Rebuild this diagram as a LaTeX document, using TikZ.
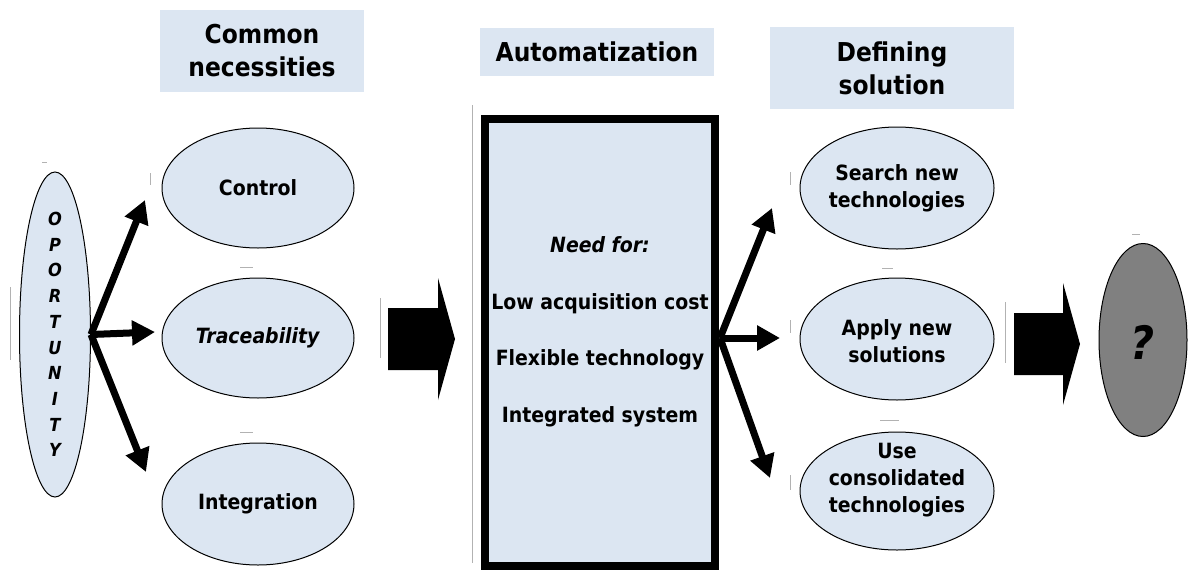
\documentclass[tikz,border=0pt]{standalone}
\usepackage{fontspec}
\setmainfont{DejaVu Sans Condensed}
\usetikzlibrary{shapes.geometric,arrows.meta}
\definecolor{lb}{HTML}{DCE6F2}
\definecolor{qgray}{HTML}{808080}
\begin{document}
\begin{tikzpicture}[x=1pt,y=-1pt,
  oval/.style={ellipse,draw=black,line width=1pt,fill=lb,inner sep=0pt},
  headbox/.style={fill=lb,inner sep=0pt,align=center,font=\fontsize{26}{33}\selectfont\bfseries},
  etext/.style={align=center,font=\fontsize{21}{27}\selectfont\bfseries},
  fat/.style={line width=7pt,-{Triangle[length=23pt,width=24pt]}},
  ghost/.style={draw=black!30,line width=1pt}]
\useasboundingbox (0,0) rectangle (1188,573);
\fill[white] (0,0) rectangle (1188,573);
% faint artefact lines
\draw[ghost] (10,287) -- (10,360);
\draw[ghost] (472,105) -- (472,563);
\draw[ghost] (380,298) -- (380,358);
\draw[ghost] (1005,302) -- (1005,363);
\draw[ghost] (790,172) -- (790,185);
\draw[ghost] (790,320) -- (790,333);
\draw[ghost] (790,475) -- (790,490);
\draw[ghost] (150,173) -- (150,185);
\draw[ghost] (42,162) -- (47,162);
\draw[ghost] (240,267) -- (253,267);
\draw[ghost] (240,432) -- (253,432);
\draw[ghost] (1132,234) -- (1140,234);
\draw[ghost] (882,268) -- (893,268);
\draw[ghost] (880,420) -- (899,420);
% headers
\node[headbox,minimum width=204pt,minimum height=82pt] (h1) at (262,51) {Common\\necessities};
\node[headbox,minimum width=234pt,minimum height=48pt] (h2) at (597,52) {Automatization};
\node[headbox,minimum width=244pt,minimum height=82pt] (h3) at (892,68) {Defining\\solution};
% opportunity
\node[oval,minimum width=71pt,minimum height=325pt] (opp) at (55,334.5) {};
\node[align=center,font=\fontsize{18}{25.7}\selectfont\bfseries\itshape] (oppt) at (opp.center) {O\\P\\O\\R\\T\\U\\N\\I\\T\\Y};
% necessities
\node[oval,minimum width=192pt,minimum height=120pt] (ctrl) at (258,188) {};
\node[etext] (ctrlt) at (ctrl.center) {Control};
\node[oval,minimum width=192pt,minimum height=120pt] (trace) at (258,338) {};
\node[etext] (tracet) at (trace.center) {\textit{Traceability}};
\node[oval,minimum width=192pt,minimum height=122pt] (integ) at (258,504) {};
\node[etext] (integt) at (integ.center) {Integration};
\coordinate (a1) at (145,200);
\coordinate (a2) at (155,332);
\coordinate (a3) at (146,472);
\draw[fat] (opp.east) -- (a1);
\draw[fat] (opp.east) -- (a2);
\draw[fat] (opp.east) -- (a3);
% big arrow 1
\fill[black] (388,308) -- (438,308) -- (438,278) -- (455,339) -- (438,400) -- (438,370) -- (388,370) -- cycle;
% automatization box
\node[draw=black,line width=8pt,fill=lb,minimum width=230pt,minimum height=447pt,inner sep=0pt] (auto) at (600,342.5) {};
\node[align=center,font=\fontsize{21}{56.5}\selectfont\bfseries] (needs) at (600,332) {\textit{Need for:}\\Low acquisition cost\\Flexible technology\\Integrated system};
% solution ellipses
\node[oval,minimum width=194pt,minimum height=122pt] (srch) at (897,188) {};
\node[etext] (srcht) at (897,188.5) {Search new\\technologies};
\node[oval,minimum width=194pt,minimum height=122pt] (apply) at (897,339) {};
\node[etext] (applyt) at (897,341.5) {Apply new\\solutions};
\node[oval,minimum width=194pt,minimum height=118pt] (use) at (897,491) {};
\node[etext] (uset) at (897,480) {Use\\consolidated\\technologies};
\coordinate (fork) at (720,338);
\coordinate (b1) at (772,208);
\coordinate (b2) at (780,338);
\coordinate (b3) at (770,478);
\draw[fat] (fork) -- (b1);
\draw[fat] (fork) -- (b2);
\draw[fat] (fork) -- (b3);
% big arrow 2
\fill[black] (1014,313) -- (1063,313) -- (1063,283) -- (1080,344) -- (1063,405) -- (1063,375) -- (1014,375) -- cycle;
% result
\node[oval,fill=qgray,minimum width=88pt,minimum height=193pt] (q) at (1143,340) {};
\node[font=\fontsize{46}{50}\selectfont\bfseries\itshape] (qt) at (1142,342) {?};
\end{tikzpicture}
\end{document}
